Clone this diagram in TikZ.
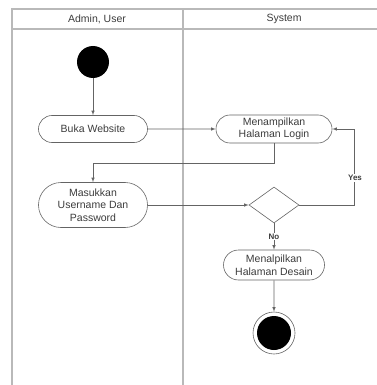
\documentclass[tikz,border=0pt]{standalone}
\usepackage{fontspec}
\setmainfont{Liberation Sans}
\usetikzlibrary{arrows,shapes,positioning}
\definecolor{linegray}{RGB}{100,100,100}
\definecolor{textgray}{RGB}{60,60,60}
\tikzset{lane/.style={draw=gray!55, line width=1.3pt},
         act/.style={rounded rectangle, draw=linegray, line width=0.6pt, align=center, inner sep=1pt,
                      text=textgray, font=\fontsize{10.5}{12.5}\selectfont},
         flow/.style={draw=linegray, line width=0.6pt, -latex},
         guard/.style={fill=white, inner sep=1pt, text=textgray, font=\fontsize{8}{9}\selectfont\bfseries}}
\begin{document}
\begin{tikzpicture}[x=1pt,y=-1pt]
\useasboundingbox (0,0) rectangle (376,385);
% swimlanes
\draw[lane] (12,392) -- (12,9) -- (382,9);
\draw[lane] (12,29) -- (382,29);
\draw[lane] (183,9) -- (183,392);
\node[text=textgray, font=\fontsize{10.5}{12}\selectfont] (laneA) at (97,19) {Admin, User};
\node[text=textgray, font=\fontsize{10.5}{12}\selectfont] (laneB) at (284,19) {System};

\node[circle, fill=black, minimum size=32pt, inner sep=0] (start) at (93,62) {};
\node[act, minimum width=111pt, minimum height=27pt] (buka) at (93,129) {Buka Website};
\node[act, minimum width=118pt, minimum height=28pt] (login) at (274,129) {Menampilkan\\Halaman Login};
\node[act, minimum width=111pt, minimum height=45pt] (masuk) at (93,205) {Masukkan\\Username Dan\\Password};
\node[diamond, draw=linegray, line width=0.6pt, minimum width=50pt, minimum height=36pt, inner sep=0] (cek) at (274,205) {};
\node[act, minimum width=103pt, minimum height=30pt] (desain) at (274,265) {Menalpilkan\\Halaman Desain};
\node[circle, draw=linegray, line width=0.6pt, minimum size=42pt, inner sep=0] (stop) at (274,333) {};
\node[circle, fill=black, minimum size=34pt, inner sep=0] (stopdot) at (stop) {};
\coordinate (yesturn) at (354,205);

\draw[flow] (start) -- (buka);
\draw[flow] (buka) -- (login);
\draw[flow] (login.south) -- (login.south |- 0,163) -| (masuk.north);
\draw[flow] (masuk.east) -- (cek.west);
\draw[flow] (cek.east) -- (yesturn) |- (login.east);
\node[guard] (yes) at (355,178) {Yes};
\draw[flow] (cek.south) -- (desain.north) node[guard, midway] (no) {No};
\draw[flow] (desain) -- (stop);
\end{tikzpicture}
\end{document}
